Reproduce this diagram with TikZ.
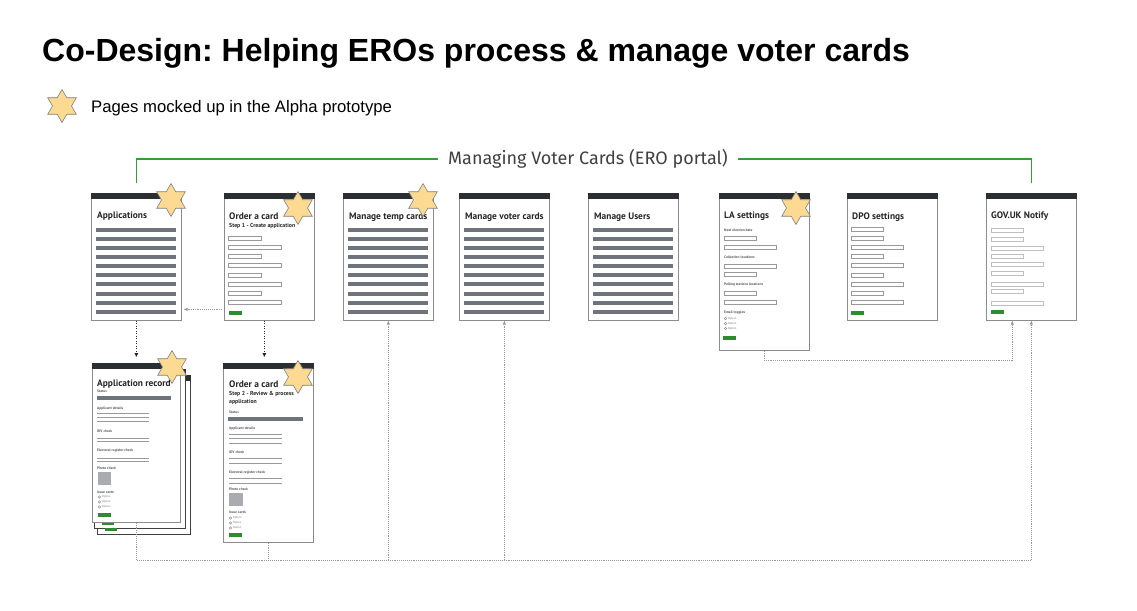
\documentclass[tikz,border=0pt]{standalone}
\usepackage{fontspec}
\setmainfont{Liberation Sans}
\newfontfamily\uifont{PT Sans}
\newfontfamily\portalfont{Fira Sans}
\usetikzlibrary{arrows.meta,positioning,calc,shapes.geometric}
\frenchspacing

\definecolor{hdrgrey}{HTML}{2B2F33}
\definecolor{bargrey}{HTML}{6F737C}
\definecolor{btngreen}{HTML}{2E8B2E}
\definecolor{portalgreen}{HTML}{3A9A3A}
\definecolor{starfill}{HTML}{FCDA92}

\begin{document}
\begin{tikzpicture}[x=1pt,y=-1pt,
      every node/.style={inner sep=0pt},
      page/.style={draw=black!45,line width=0.7pt,fill=white,anchor=north west,minimum width=90pt},
      backpage/.style={page,draw=black!75},
      ptitle/.style={anchor=west,font=\uifont\bfseries\fontsize{9.4}{10}\selectfont,text=black!85},
      psub/.style={anchor=west,font=\uifont\bfseries\fontsize{5.8}{6}\selectfont,text=black!85},
      lbl/.style={anchor=west,font=\uifont\bfseries\fontsize{3.6}{4}\selectfont,text=black!65},
      opt/.style={anchor=west,font=\uifont\fontsize{2.8}{3}\selectfont,text=black!55},
      field/.style={draw=black!40,line width=0.45pt},
      rule/.style={draw=black!40,line width=0.6pt},
      starmark/.style={star,star points=6,star point ratio=1.73,minimum size=33pt,
        draw=black!50,line width=0.6pt,fill=starfill},
      flow/.style={-{Triangle[length=4pt,width=3.5pt]},black!85,line width=1.1pt,
        dash pattern=on 1.2pt off 1.3pt},
      link/.style={-{Triangle[length=4pt,width=3pt]},black!40,line width=0.7pt,
        dash pattern=on 0.8pt off 1.1pt},
      brk/.style={portalgreen,line width=1.4pt}]
      \useasboundingbox (0,0) rectangle (1137,610);
      % heading and legend
      \node[anchor=base west,font=\bfseries\fontsize{32}{36}\selectfont] (title) at (42,62)
        {Co-Design: Helping EROs process \& manage voter cards};
      \node[starmark] (legstar) at (62,106) {};
      \node[anchor=west,font=\fontsize{16.7}{18}\selectfont] (legend) at (91,108)
        {Pages mocked up in the Alpha prototype};
      % pages
      \node[page,minimum height=127pt] (apps) at (91,193) {};
      \node[page,minimum height=127pt] (order1) at (224,193) {};
      \node[page,minimum height=127pt] (temp) at (343,193) {};
      \node[page,minimum height=127pt] (voter) at (459,193) {};
      \node[page,minimum height=127pt] (users) at (588,193) {};
      \node[page,minimum height=157pt] (la) at (719,193) {};
      \node[page,minimum height=127pt] (dpo) at (847,193) {};
      \node[page,minimum height=127pt] (notify) at (986,193) {};
      \node[backpage,minimum width=93pt,minimum height=159pt] (apprec3) at (97,375) {};
      \fill[hdrgrey] (apprec3.north west) rectangle ([yshift=-6pt]apprec3.north east);
      \node[backpage,minimum width=91pt,minimum height=159pt] (apprec2) at (94,369) {};
      \fill[hdrgrey] (apprec2.north west) rectangle ([yshift=-6pt]apprec2.north east);
      \fill[btngreen] (105,528) rectangle ++(12,3);
      \fill[btngreen] (102,521.5) rectangle ++(12,3);
      \node[page,minimum width=88pt,minimum height=159pt] (apprec) at (92,363) {};
      \node[page,minimum height=179pt] (order2) at (223,363) {};
      \foreach \p in {apps,order1,temp,voter,users,la,dpo,notify,apprec,order2}
        \fill[hdrgrey] (\p.north west) rectangle ([yshift=-6pt]\p.north east);
      % page titles
      \node[ptitle] (appsT) at (97,216) {Applications};
      \node[ptitle] (order1T) at (229,216) {Order a card};
      \node[psub] (order1S) at (229,226.5) {Step 1 - Create application};
      \node[ptitle] (tempT) at (349,217) {Manage temp cards};
      \node[ptitle] (voterT) at (465,217) {Manage voter cards};
      \node[ptitle] (usersT) at (594,217) {Manage Users};
      \node[ptitle] (laT) at (724,216) {LA settings};
      \node[ptitle] (dpoT) at (852,217) {DPO settings};
      \node[ptitle] (notifyT) at (991,216) {GOV.UK Notify};
      \node[ptitle] (apprecT) at (97,384) {Application record};
      \node[ptitle] (order2T) at (229,384) {Order a card};
      \node[psub] (order2S) at (229,394) {Step 2 - Review \& process};
      \node[psub] (order2S2) at (229,402.5) {application};
      % list pages
      \foreach \x in {96,348,464,593}
        \foreach \i in {0,...,9}
          \fill[bargrey] (\x,{227.5+9.15*\i}) rectangle ++(80,4);
      % form pages
      \foreach \w [count=\i from 0] in {33,53,33,53,33,53,33,53}
        \draw[field] (228,{236+9.2*\i}) rectangle ++(\w,4);
      \foreach \w [count=\i from 0] in {32,32,52,32,52,32,52,32,52}
        \draw[field] (851,{227+9.15*\i}) rectangle ++(\w,4);
      \foreach \w/\y in {32/228,32/237,52/246,32/254,52/262,32/271,52/282,32/289,52/301}
        \draw[field,black!25] (991,\y) rectangle ++(\w,4);
      \foreach \x/\y in {229/311,851/311,991/310,723/336,98/513,229/533}
        \fill[btngreen] (\x,\y) rectangle ++(13,3.5);
      % LA settings
      \foreach \t/\y [count=\k] in {Next election date/230,Collection locations/257,
          Polling stations locations/285,Email toggles/313}
        \node[lbl] (laL\k) at (724,\y) {\t};
      \foreach \w/\y in {32/236,52/245,52/264,32/272,32/291,52/300}
        \draw[field] (724,\y) rectangle ++(\w,4);
      \foreach \y [count=\k] in {318.5,323.5,328.5}{
        \draw[field] (725.5,\y) circle (1.3);
        \node[opt] (laO\k) at (728,\y) {Option};}
      % application record
      \fill[bargrey] (97,396) rectangle ++(74,3.5);
      \foreach \t/\y [count=\k] in {Status/391,Applicant details/409,IDV check/431,
          Electoral register check/451,Photo check/468,Issue cards/492}
        \node[lbl] (recL\k) at (97,\y) {\t};
      \foreach \y in {413,417,421,438,441.5,458,461.5}
        \draw[rule] (97,\y) -- ++(52,0);
      \fill[bargrey!60] (98,472) rectangle ++(13,13);
      \foreach \y [count=\k] in {497,502,507}{
        \draw[field] (99.5,\y) circle (1.3);
        \node[opt] (recO\k) at (102,\y) {Option};}
      % order a card, step 2
      \fill[bargrey] (228,417) rectangle ++(75,3.5);
      \foreach \t/\y [count=\k] in {Status/412,Applicant details/429,IDV check/452,
          Electoral register check/473,Photo check/489,Issue cards/512}
        \node[lbl] (ordL\k) at (229,\y) {\t};
      \foreach \y in {434,438.5,443,458,463,478,483}
        \draw[rule] (229,\y) -- ++(53,0);
      \fill[bargrey!60] (229,493) rectangle ++(14,13);
      \foreach \y [count=\k] in {518,523,528}{
        \draw[field] (230.5,\y) circle (1.3);
        \node[opt] (ordO\k) at (233,\y) {Option};}
      % stars
      \node[starmark] (s1) at (171,200) {};
      \node[starmark] (s2) at (298,208) {};
      \node[starmark] (s3) at (423,200) {};
      \node[starmark] (s4) at (796,208) {};
      \node[starmark] (s5) at (172,367) {};
      \node[starmark] (s6) at (298,377) {};
      % portal bracket
      \node[font=\portalfont\fontsize{18}{20}\selectfont,text=black!75,inner xsep=10pt]
        (portal) at (588,159) {Managing Voter Cards (ERO portal)};
      \draw[brk,shorten >=10pt] (portal.west) -| (apps.north);
      \draw[brk,shorten >=10pt] (portal.east) -| (notify.north);
      % connectors
      \coordinate (bus) at (137,560);
      \draw[flow,shorten >=6pt] (apps.south) -- (apprec.north);
      \draw[flow,shorten >=6pt] ([xshift=-5pt]order1.south) -- ([xshift=-4pt]order2.north);
      \draw[link,shorten <=2pt,shorten >=2pt] ([yshift=-52.5pt]order1.west) -- ([yshift=-52.5pt]apps.east);
      \draw[link] (apprec.south) -- (apprec.south |- bus) -| (notify.south);
      \draw[link,-] (order2.south) -- (order2.south |- bus);
      \draw[link] (temp.south |- bus) -- (temp.south);
      \draw[link] (voter.south |- bus) -- (voter.south);
      \draw[link] (la.south) -- ++(0,10) -| ([xshift=-19pt]notify.south);
    \end{tikzpicture}
\end{document}
